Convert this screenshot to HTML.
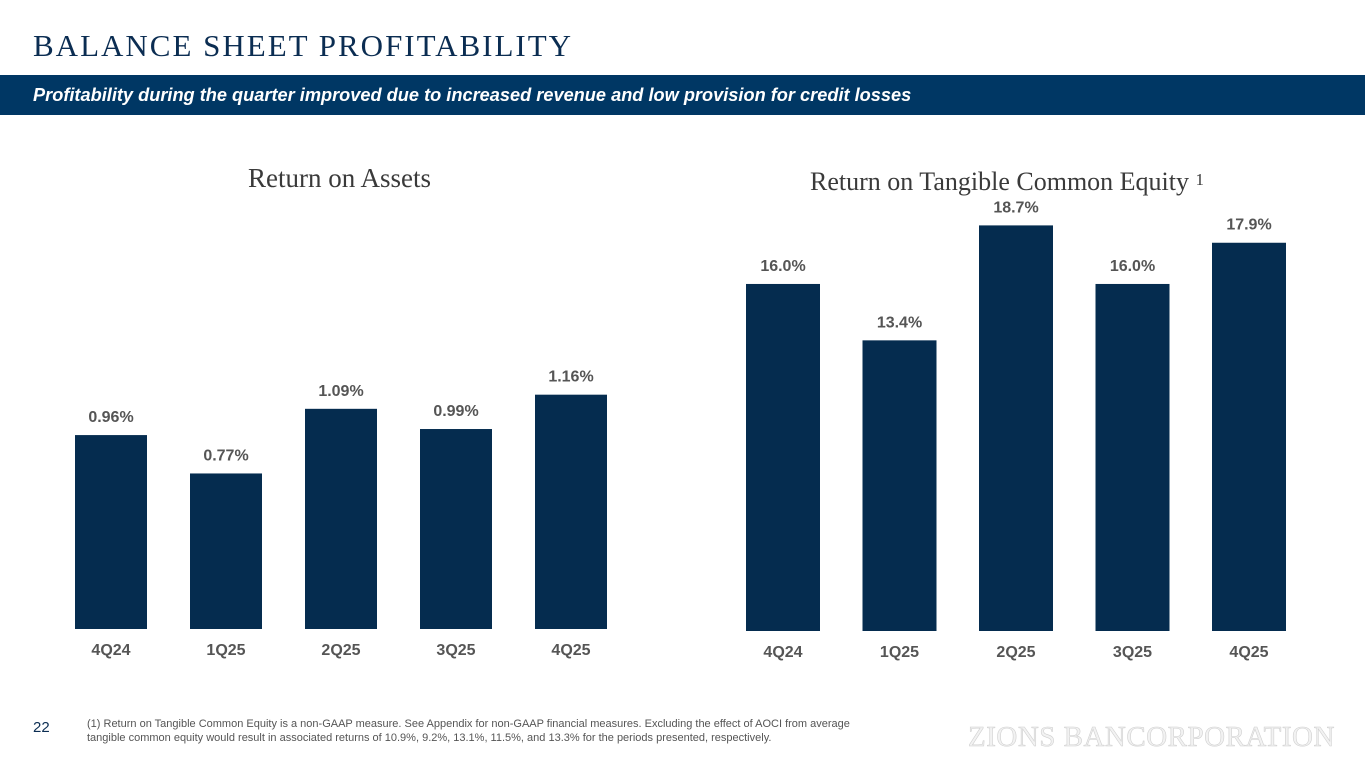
<!DOCTYPE html>
<html><head><meta charset="utf-8"><style>
body{margin:0;width:1365px;height:768px;background:#fff;position:relative;overflow:hidden;font-family:"Liberation Sans",sans-serif}
.abs{position:absolute}
#title{left:33px;top:28px;font-family:"Liberation Serif",serif;font-size:31px;letter-spacing:2px;color:#0b2d52;white-space:nowrap}
#banner{left:0;top:75px;width:1365px;height:40px;background:#003764}
#banner span{position:absolute;left:33px;top:10px;color:#fff;font-style:italic;font-weight:bold;font-size:18.2px;white-space:nowrap}
.ct{font-family:"Liberation Serif",serif;font-size:26px;color:#3a3a3a;white-space:nowrap}
svg{position:absolute;left:0;top:0}
#pg{left:33px;top:719px;font-size:15px;color:#0b2d52}
#fn{left:87px;top:717px;font-size:11px;color:#555;line-height:14px;width:800px}
#logo{left:968px;top:721px;font-family:"Liberation Serif",serif;font-size:29px;color:#f2f2f2;-webkit-text-stroke:0.6px #d0d0d0;letter-spacing:0.5px;white-space:nowrap}
</style></head><body>
<div id="title" class="abs">BALANCE SHEET PROFITABILITY</div>
<div id="banner" class="abs"><span>Profitability during the quarter improved due to increased revenue and low provision for credit losses</span></div>
<div class="abs ct" style="left:248px;top:163px;font-size:27px">Return on Assets</div>
<div class="abs ct" style="left:810px;top:167px">Return on Tangible Common Equity <span style="font-size:17px;vertical-align:5px">1</span></div>
<svg id="chart" width="1365" height="768"></svg>
<div id="pg" class="abs">22</div>
<div id="fn" class="abs">(1) Return on Tangible Common Equity is a non-GAAP measure. See Appendix for non-GAAP financial measures. Excluding the effect of AOCI from average tangible common equity would result in associated returns of 10.9%, 9.2%, 13.1%, 11.5%, and 13.3% for the periods presented, respectively.</div>
<div id="logo" class="abs">ZIONS BANCORPORATION</div>
<script>
const categories=["4Q24","1Q25","2Q25","3Q25","4Q25"];
const roaValues=[0.96,0.77,1.09,0.99,1.16];
const roaLabels=["0.96%","0.77%","1.09%","0.99%","1.16%"];
const rotceValues=[16.0,13.4,18.7,16.0,17.9];
const rotceLabels=["16.0%","13.4%","18.7%","16.0%","17.9%"];
const svg=document.getElementById('chart');
const NS='http://www.w3.org/2000/svg';
function draw(vals,labels,cfg,prefix){
  const y=v=>cfg.base-v*cfg.scale;
  const x=i=>cfg.x0+i*cfg.step;
  vals.forEach((v,i)=>{
    const r=document.createElementNS(NS,'rect');
    r.setAttribute('x',x(i));r.setAttribute('y',y(v));
    r.setAttribute('width',cfg.w);r.setAttribute('height',cfg.base-y(v));
    r.setAttribute('fill','#052c4f');
    
    
    svg.appendChild(r);
    const t=document.createElementNS(NS,'text');
    t.setAttribute('x',x(i)+cfg.w/2);t.setAttribute('y',y(v)-13);
    t.setAttribute('text-anchor','middle');t.setAttribute('font-size','16');
    t.setAttribute('font-weight','bold');t.setAttribute('fill','#555');
    t.setAttribute('font-family','Liberation Sans, sans-serif');
    t.textContent=labels[i];
    
    
    svg.appendChild(t);
    const c=document.createElementNS(NS,'text');
    c.setAttribute('x',x(i)+cfg.w/2);c.setAttribute('y',cfg.base+26);
    c.setAttribute('text-anchor','middle');c.setAttribute('font-size','16');
    c.setAttribute('font-weight','bold');c.setAttribute('fill','#555');
    c.setAttribute('font-family','Liberation Sans, sans-serif');
    c.textContent=categories[i];
    
    
    svg.appendChild(c);
  });
}
draw(roaValues,roaLabels,{base:629,scale:202,x0:75,step:115,w:72},'roa');
draw(rotceValues,rotceLabels,{base:631,scale:21.69,x0:746,step:116.5,w:74},'rotce');
</script>
</body></html>
